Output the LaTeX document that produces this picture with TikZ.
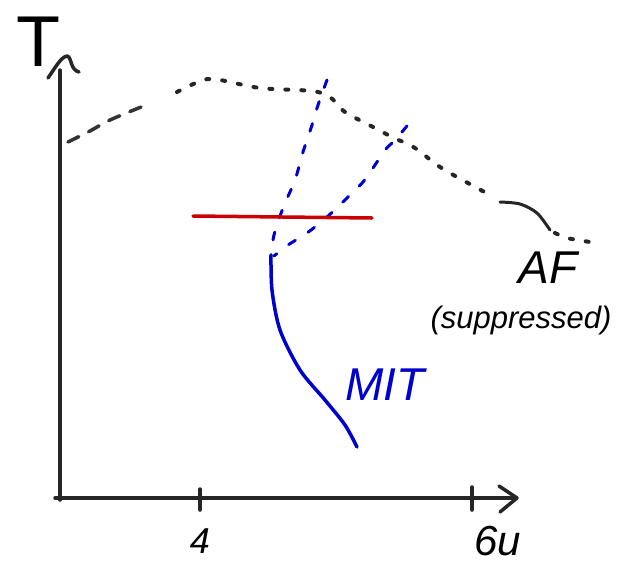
\documentclass[tikz,border=0pt]{standalone}
\usepackage{fontspec}
\setmainfont{Liberation Sans}
\begin{document}
\begin{tikzpicture}[x=1pt,y=-1pt,line cap=round,line join=round]
\tikzset{
  axis/.style={line width=3.5pt,black!85},
  afdash/.style={line width=3.5pt,black!80,dash pattern=on 12pt off 11pt},
  afdot/.style={line width=4pt,black!85,dash pattern=on 3pt off 13pt},
  afsolid/.style={line width=3pt,black!85},
  mitdash/.style={line width=3pt,blue!80!black,dash pattern=on 8pt off 15pt},
  mitsolid/.style={line width=3.5pt,blue!80!black},
  redline/.style={line width=3.5pt,red!80!black},
  hand/.style={font=\itshape\fontsize{#1}{#1}\selectfont,inner sep=0pt},
  handup/.style={font=\fontsize{#1}{#1}\selectfont,inner sep=0pt}
}
\useasboundingbox (0,0) rectangle (627,568);
% axes
\draw[axis] (60,500) -- (60,70);
\draw[axis] (48,78) .. controls (55,68) and (61,57) .. (67,56) .. controls (72,57) and (70,70) .. (79,72);
\draw[axis] (55,498) -- (515,498);
\draw[axis] (499,486) -- (517,498) -- (500,512);
\draw[axis] (200,489) -- (200,510);
\draw[axis] (472,487) -- (472,510);
\node[handup=72] (tlab) at (38,42) {T};
\node[hand=36] (four) at (200,541) {4};
\node[hand=42] (six) at (498,541) {6u};
% AF line
\draw[afdash] plot[smooth] coordinates {(68,142) (90,131) (110,120) (146,105)};
\draw[afdot] plot[smooth] coordinates {(177,92) (203,80) (220,80) (260,88) (312,91) (330,97) (345,112) (375,128) (392,137) (415,148) (437,165) (457,177) (490,195)};
\draw[afsolid] plot[smooth] coordinates {(500,202) (520,204) (537,213) (550,230)};
\draw[afdot] plot[smooth] coordinates {(555,233) (567,238) (590,242)};
\node[hand=46] (af) at (548,268) {AF};
\node[hand=31] (supp) at (521,320) {(suppressed)};
% MIT lines
\draw[mitdash] plot[smooth] coordinates {(327,80) (318,105) (312,125) (303,152) (295,180) (283,208) (274,235) (271,255)};
\draw[mitdash] plot[smooth] coordinates {(407,126) (395,140) (385,150) (375,165) (363,182) (347,198) (327,217) (307,233) (288,245) (274,256)};
\draw[mitsolid] plot[smooth] coordinates {(271,255) (272,290) (280,330) (300,370) (325,400) (345,425) (357,447)};
\node[hand=46,text=blue!80!black] (mit) at (385,385) {MIT};
% red line
\draw[redline] (193,216) -- (372,218);
\end{tikzpicture}
\end{document}
